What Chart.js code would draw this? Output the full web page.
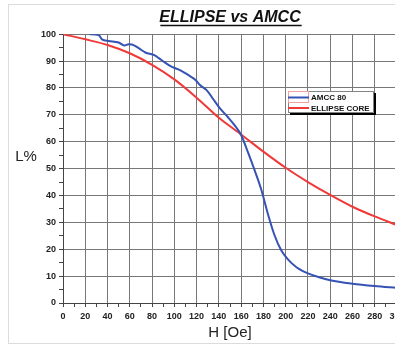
<!DOCTYPE html>
<html>
<head>
<meta charset="utf-8">
<script src="https://cdn.jsdelivr.net/npm/chart.js@4/dist/chart.umd.min.js"></script>
<style>
  html, body { margin: 0; padding: 0; background: #fff; }
  #wrap { position: relative; width: 395px; height: 345px; overflow: hidden; }
  #frame { position: absolute; left: 8px; top: 4px; width: 500px; height: 338px; border: 1px solid #dcdcdc; }
  #c { position: absolute; left: 0; top: 0; }
</style>
</head>
<body>
<div id="wrap">
  <div id="frame"></div>
  <canvas id="c" width="410" height="345"></canvas>
</div>
<script>
const chartTitle = 'ELLIPSE vs AMCC';
const yLabel = 'L%';
const xLabel = 'H [Oe]';

// AMCC 80 curve
const amccH = [24, 32, 35, 41, 50, 55, 59, 62, 68, 74, 82, 86, 91, 97, 103, 109, 114, 119, 123, 129, 135, 141, 148, 154, 160, 166, 172, 178, 184, 190, 196, 202, 210, 220, 230, 240, 260, 280, 300];
const amccL = [100, 99.7, 98.1, 97.5, 96.9, 95.8, 96.3, 96.2, 94.8, 93.2, 92.2, 91.1, 89.6, 88.0, 87.0, 85.7, 84.4, 83.0, 81.1, 79.2, 75.8, 72.4, 69.2, 66.2, 62.5, 56.2, 49.5, 42.3, 33.2, 25.2, 19.6, 16.2, 13.2, 11.0, 9.6, 8.5, 7.2, 6.3, 5.6];

// ELLIPSE CORE curve
const ellipseH = [0, 20, 40, 60, 80, 100, 120, 140, 160, 180, 200, 220, 240, 260, 280, 300];
const ellipseL = [100, 98.1, 96.0, 92.9, 88.6, 83.2, 76.4, 68.9, 62.7, 56.3, 50.3, 45.0, 40.2, 35.8, 32.2, 29.0];

const seriesNames = ['AMCC 80', 'ELLIPSE CORE'];
const seriesColors = ['#3552b4', '#f03a3a'];

const toPoints = (xs, ys) => xs.map((x, i) => ({ x: x, y: ys[i] }));

const tickFont = { family: 'Arial', size: 9, weight: 'bold' };

const extras = {
  id: 'extras',
  afterDraw(chart) {
    const ctx = chart.ctx;
    ctx.save();
    // title underline
    const tb = chart.titleBlock;
    ctx.font = 'italic bold 16px Arial';
    const w = ctx.measureText(chartTitle).width;
    const cx = (tb.left + tb.right) / 2;
    ctx.strokeStyle = '#111';
    ctx.lineWidth = 1.5;
    ctx.beginPath();
    ctx.moveTo(cx - w / 2 + 1, 25.5);
    ctx.lineTo(cx + w / 2 + 1, 25.5);
    ctx.stroke();

    // horizontal y axis label
    ctx.font = '15px Arial';
    ctx.fillStyle = '#222';
    ctx.textAlign = 'center';
    ctx.textBaseline = 'middle';
    ctx.fillText(yLabel, 26, 157);

    // legend box
    const lx = 288, ly = 91, lw = 86, lh = 22;
    ctx.fillStyle = '#000';
    ctx.fillRect(lx + 2, ly + 2, lw, lh);
    ctx.fillStyle = '#fff';
    ctx.fillRect(lx, ly, lw, lh);
    ctx.strokeStyle = '#666';
    ctx.lineWidth = 0.8;
    ctx.strokeRect(lx + 0.5, ly + 0.5, lw - 1, lh - 1);
    // selection highlight around first sample
    ctx.strokeStyle = '#f4a0a0';
    ctx.lineWidth = 1;
    ctx.strokeRect(288.5, 91.5, 20, 11);
    ctx.font = 'bold 8px Arial';
    ctx.textAlign = 'left';
    ctx.textBaseline = 'middle';
    seriesNames.forEach((name, i) => {
      const yy = 97.5 + i * 10.5;
      ctx.strokeStyle = seriesColors[i];
      ctx.lineWidth = 2;
      ctx.beginPath();
      ctx.moveTo(288, yy);
      ctx.lineTo(309, yy);
      ctx.stroke();
      ctx.fillStyle = '#111';
      ctx.fillText(name, 311, yy + 0.5);
    });
    ctx.restore();
  }
};

new Chart(document.getElementById('c'), {
  type: 'scatter',
  data: {
    datasets: [
      {
        label: seriesNames[0],
        data: toPoints(amccH, amccL),
        showLine: true,
        borderColor: seriesColors[0],
        backgroundColor: seriesColors[0],
        borderWidth: 2,
        pointRadius: 0,
        cubicInterpolationMode: 'monotone'
      },
      {
        label: seriesNames[1],
        data: toPoints(ellipseH, ellipseL),
        showLine: true,
        borderColor: seriesColors[1],
        backgroundColor: seriesColors[1],
        borderWidth: 2,
        pointRadius: 0,
        cubicInterpolationMode: 'monotone'
      }
    ]
  },
  options: {
    responsive: false,
    animation: false,
    devicePixelRatio: 1,
    layout: { padding: { left: 0, right: 13, top: 0, bottom: 0 } },
    plugins: {
      legend: { display: false },
      tooltip: { enabled: false },
      title: {
        display: true,
        text: chartTitle,
        fullSize: false,
        color: '#111',
        font: { family: 'Arial', size: 16, weight: 'bold', style: 'italic' },
        padding: { top: 8, bottom: 7 }
      }
    },
    scales: {
      x: {
        type: 'linear',
        min: 0,
        max: 300,
        ticks: {
          stepSize: 10,
          autoSkip: false,
          maxRotation: 0,
          padding: 4,
          color: '#222',
          font: tickFont,
          callback: v => (v % 20 === 0 ? v : '')
        },
        grid: {
          color: c => (c.tick && c.tick.value % 20 === 0 ? '#777' : 'rgba(0,0,0,0)'),
          tickColor: '#444',
          tickLength: 4,
          lineWidth: 1
        },
        border: { color: '#444', width: 1 },
        title: {
          display: true,
          text: xLabel,
          color: '#222',
          font: { family: 'Arial', size: 15 },
          padding: { top: 0, bottom: 3 }
        },
        afterFit: s => { s.height = 42; }
      },
      y: {
        type: 'linear',
        min: 0,
        max: 100,
        ticks: {
          stepSize: 5,
          autoSkip: false,
          padding: 3,
          color: '#222',
          font: tickFont,
          callback: v => (v % 10 === 0 ? v : '')
        },
        grid: {
          color: c => (c.tick && c.tick.value % 10 === 0 ? '#777' : 'rgba(0,0,0,0)'),
          tickColor: '#444',
          tickLength: 4,
          lineWidth: 1
        },
        border: { color: '#444', width: 1 },
        afterFit: s => { s.width = 63; }
      }
    }
  },
  plugins: [extras]
});
</script>
</body>
</html>
